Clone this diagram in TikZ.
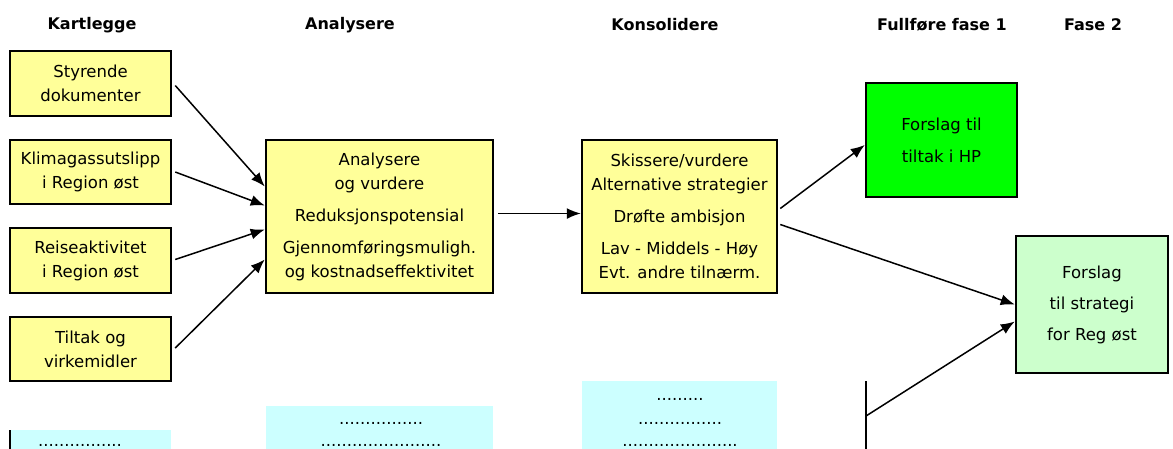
\documentclass[tikz,border=0pt]{standalone}
\usepackage{fontspec}
\setmainfont{DejaVu Sans}
\usepackage{tikz}
\usetikzlibrary{arrows.meta,positioning,calc}
\definecolor{boxyellow}{RGB}{255,255,153}
\definecolor{boxgreen}{RGB}{0,255,0}
\definecolor{boxlightgreen}{RGB}{204,255,204}
\definecolor{boxcyan}{RGB}{204,255,255}

\begin{document}
\begin{tikzpicture}[
    x=1pt, y=-1pt,
    box/.style={rectangle, draw=black, line width=2.5pt, fill=boxyellow,
                align=center, inner sep=2pt, font=\fontsize{16.5pt}{24pt}\selectfont},
    resultbox/.style={box, fill=boxlightgreen},
    hpbox/.style={box, fill=boxgreen},
    morebox/.style={rectangle, fill=boxcyan, anchor=north west, inner sep=0pt},
    dots/.style={font=\fontsize{16.5pt}{24pt}\selectfont, inner sep=0pt, text depth=0pt, anchor=base},
    phase/.style={font=\fontsize{16pt}{20pt}\selectfont\bfseries},
    arr/.style={-{Latex[length=14pt,width=11pt]}, line width=1.5pt}
]
    \useasboundingbox (0,0) rectangle (1173,448);

    % Phases
    \node[phase] (ph1) at (92, 25) {Kartlegge};
    \node[phase] (ph2) at (350, 25) {Analysere};
    \node[phase] (ph3) at (665, 25) {Konsolidere};
    \node[phase] (ph4) at (942, 25) {Fullføre fase 1};
    \node[phase] (ph5) at (1093, 25) {Fase 2};

    % Kartlegge
    \node[box, minimum width=161pt, minimum height=65pt] (styr) at (90.5, 83.5) {Styrende\\dokumenter};
    \node[box, minimum width=161pt, minimum height=64pt] (klima) at (90.5, 172) {Klimagassutslipp\\i Region øst};
    \node[box, minimum width=161pt, minimum height=65pt] (reise) at (90.5, 260.5) {Reiseaktivitet\\i Region øst};
    \node[box, minimum width=161pt, minimum height=64pt] (tiltak) at (90.5, 349) {Tiltak og\\virkemidler};

    % Analysere / Konsolidere
    \node[box, minimum width=227pt, minimum height=153pt] (ana) at (379.5, 216.5)
        {Analysere\\og vurdere\\[8pt]Reduksjonspotensial\\[8pt]Gjennomføringsmuligh.\\og kostnadseffektivitet};
    \node[box, minimum width=195pt, minimum height=153pt] (kons) at (679.5, 216.5)
        {Skissere/vurdere\\Alternative strategier\\[8pt]Drøfte ambisjon\\[8pt]Lav - Middels - Høy\\Evt. andre tilnærm.};

    % Results
    \node[hpbox, minimum width=151pt, minimum height=114pt] (hp) at (941.5, 140) {Forslag til\\[8pt]tiltak i HP};
    \node[resultbox, minimum width=152pt, minimum height=137pt] (strat) at (1092, 304.5) {Forslag\\[7pt]til strategi\\[7pt]for Reg øst};

    % Lower boxes
    \node[morebox, minimum width=161pt, minimum height=40pt] (more1) at (10, 430) {};
    \node[morebox, minimum width=227pt, minimum height=60pt] (more2) at (266, 406) {};
    \node[morebox, minimum width=195pt, minimum height=80pt] (more3) at (582, 381) {};
    \draw[line width=2.5pt] (more1.north west) -- (more1.south west);

    \node[dots] (d1) at (80, 446) {................};
    \node[dots] (d2) at (381, 424) {................};
    \node[dots] (d3) at (381, 446) {.......................};
    \node[dots] (d4) at (680, 400) {.........};
    \node[dots] (d5) at (680, 424) {................};
    \node[dots] (d6) at (680, 446) {......................};

    % Vertical bar
    \coordinate (bartop) at (866, 381);
    \coordinate (barbot) at (866, 460);
    \coordinate (barmid) at (866, 416);
    \draw[line width=1.5pt] (bartop) -- (barbot);

    % Arrows
    \draw[arr] ($(styr.east)+(3,2)$) -- ($(ana.west)+(0,-30)$);
    \draw[arr] ($(klima.east)+(3,0)$) -- ($(ana.west)+(0,-11)$);
    \draw[arr] ($(reise.east)+(3,-1)$) -- ($(ana.west)+(0,13)$);
    \draw[arr] ($(tiltak.east)+(3,-1)$) -- ($(ana.west)+(0,43)$);
    \draw[arr] ($(ana.east)+(4,-3)$) -- ($(kons.west)+(0,-3)$);
    \draw[arr] ($(kons.east)+(2,-8)$) -- ($(hp.west)+(0,5)$);
    \draw[arr] ($(kons.east)+(2,8)$) -- (strat.west);
    \draw[arr] (barmid) -- ($(strat.west)+(0,17)$);
\end{tikzpicture}
\end{document}
